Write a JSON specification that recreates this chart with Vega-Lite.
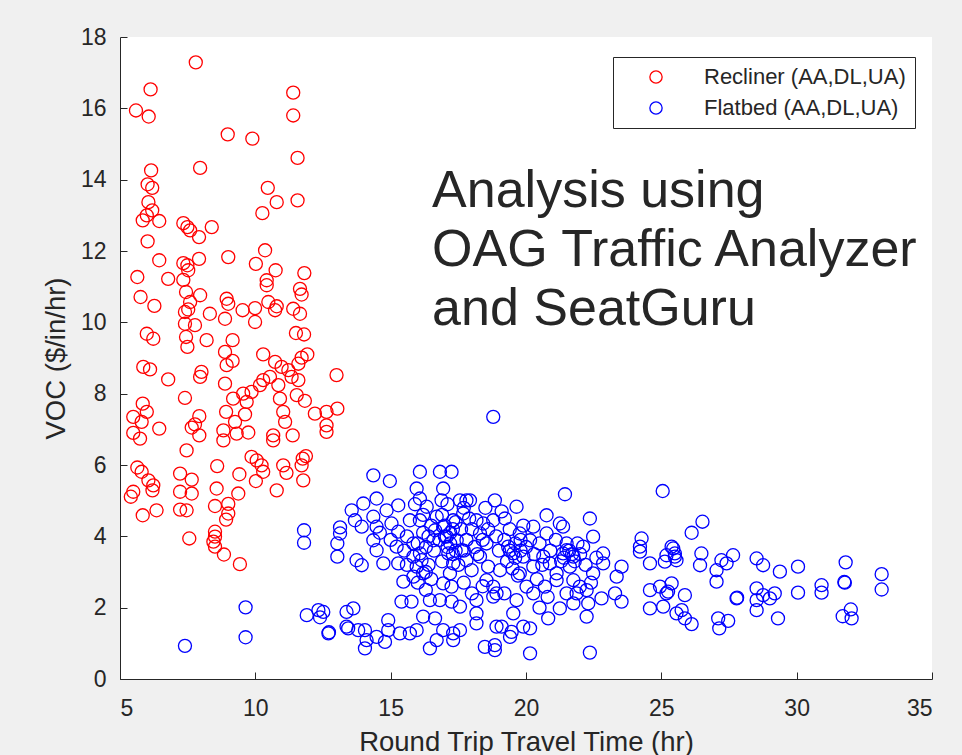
{
"$schema":"https://vega.github.io/schema/vega-lite/v6.json",
"width":812,"height":642,
"autosize":{"type":"none"},
"padding":{"left":120,"top":37,"right":30,"bottom":76},
"background":"#f0f0f0",
"config":{
"view":{"stroke":null,"fill":"#ffffff"},
"font":"Liberation Sans",
"axis":{"grid":false,"domainColor":"#262626","tickColor":"#262626","labelColor":"#262626","titleColor":"#262626","labelFont":"Liberation Sans","titleFont":"Liberation Sans","labelFontSize":23,"titleFontSize":27.5,"titleFontWeight":"normal","tickSize":-7,"domainWidth":1,"tickWidth":1}
},
"datasets":{
"recliner":[
{"time":7.80,"voc":17.29},{"time":6.13,"voc":16.53},{"time":5.59,"voc":15.94},{"time":6.06,"voc":15.77},{"time":8.98,"voc":15.27},{"time":9.89,"voc":15.15},{"time":11.40,"voc":16.44},{"time":11.40,"voc":15.80},{"time":11.56,"voc":14.61},{"time":7.96,"voc":14.33},{"time":6.15,"voc":14.26},{"time":6.02,"voc":13.87},{"time":6.19,"voc":13.77},{"time":6.05,"voc":13.37},{"time":6.19,"voc":13.14},{"time":5.99,"voc":13.00},{"time":5.84,"voc":12.86},{"time":6.45,"voc":12.84},{"time":10.46,"voc":13.77},{"time":10.79,"voc":13.37},{"time":11.56,"voc":13.42},{"time":10.26,"voc":13.06},{"time":7.34,"voc":12.78},{"time":7.49,"voc":12.67},{"time":7.59,"voc":12.58},{"time":7.92,"voc":12.39},{"time":8.39,"voc":12.67},{"time":6.02,"voc":12.27},{"time":6.45,"voc":11.74},{"time":7.34,"voc":11.66},{"time":7.49,"voc":11.60},{"time":7.52,"voc":11.46},{"time":7.92,"voc":11.78},{"time":9.00,"voc":11.83},{"time":10.36,"voc":12.02},{"time":10.02,"voc":11.64},{"time":10.75,"voc":11.46},{"time":11.81,"voc":11.38},{"time":5.64,"voc":11.27},{"time":6.78,"voc":11.22},{"time":7.34,"voc":11.19},{"time":10.42,"voc":11.18},
{"time":5.76,"voc":10.71},{"time":6.27,"voc":10.46},{"time":7.44,"voc":10.85},{"time":7.96,"voc":10.76},{"time":7.59,"voc":10.57},{"time":8.94,"voc":10.66},{"time":9.00,"voc":10.52},{"time":9.53,"voc":10.34},{"time":9.99,"voc":10.40},{"time":10.42,"voc":11.04},{"time":10.48,"voc":10.57},{"time":10.73,"voc":10.34},{"time":10.79,"voc":10.45},{"time":11.65,"voc":10.94},{"time":11.71,"voc":10.78},{"time":11.40,"voc":10.38},{"time":11.65,"voc":10.24},{"time":7.40,"voc":10.29},{"time":7.52,"voc":10.36},{"time":7.40,"voc":9.96},{"time":7.77,"voc":9.92},{"time":8.32,"voc":10.24},{"time":8.88,"voc":10.10},{"time":9.99,"voc":10.01},{"time":7.44,"voc":9.59},{"time":7.49,"voc":9.31},{"time":8.20,"voc":9.50},{"time":9.16,"voc":9.50},{"time":8.88,"voc":9.17},{"time":5.99,"voc":9.68},{"time":6.23,"voc":9.54},{"time":11.50,"voc":9.70},{"time":11.80,"voc":9.66},{"time":10.29,"voc":9.10},{"time":5.86,"voc":8.75},{"time":6.11,"voc":8.68},{"time":6.78,"voc":8.40},{"time":8.01,"voc":8.61},{"time":7.96,"voc":8.47},{"time":8.94,"voc":8.80},{"time":9.16,"voc":8.92},{"time":8.88,"voc":8.28},{"time":10.73,"voc":8.89},{"time":10.97,"voc":8.75},{"time":11.22,"voc":8.66},{"time":11.59,"voc":8.84},{"time":11.71,"voc":9.01},{"time":11.92,"voc":9.10},{"time":11.34,"voc":8.47},{"time":11.59,"voc":8.38},{"time":10.54,"voc":8.47},{"time":10.29,"voc":8.38},{"time":10.85,"voc":8.24},{"time":13.00,"voc":8.52},{"time":7.40,"voc":7.88},{"time":9.18,"voc":7.86},{"time":9.55,"voc":8.00},{"time":9.86,"voc":8.05},{"time":9.68,"voc":7.77},{"time":10.17,"voc":8.24},{"time":10.91,"voc":7.86},{"time":11.53,"voc":7.96},{"time":11.83,"voc":7.80},{"time":5.84,"voc":7.72},{"time":5.99,"voc":7.49},{"time":5.49,"voc":7.35},{"time":5.80,"voc":7.21},{"time":6.45,"voc":7.02},{"time":5.49,"voc":6.90},{"time":5.74,"voc":6.74},{"time":8.92,"voc":7.49},{"time":9.62,"voc":7.42},{"time":11.03,"voc":7.49},{"time":11.10,"voc":7.21},{"time":12.20,"voc":7.44},{"time":12.63,"voc":7.49},{"time":13.03,"voc":7.58},{"time":12.63,"voc":7.11},{"time":12.63,"voc":6.93},{"time":7.93,"voc":7.37},{"time":7.77,"voc":7.14},{"time":7.65,"voc":7.05},{"time":7.93,"voc":6.83},{"time":8.82,"voc":6.97},{"time":8.82,"voc":6.69},{"time":9.25,"voc":7.21},{"time":9.31,"voc":6.88},{"time":9.74,"voc":6.91},{"time":10.66,"voc":6.83},{"time":10.66,"voc":6.69},{"time":11.38,"voc":6.83},{"time":7.46,"voc":6.41},{"time":5.64,"voc":5.93},{"time":5.80,"voc":5.81},{"time":6.05,"voc":5.57},{"time":6.23,"voc":5.43},{"time":6.20,"voc":5.29},{"time":5.49,"voc":5.25},{"time":5.40,"voc":5.11},{"time":7.22,"voc":5.76},{"time":7.65,"voc":5.59},{"time":7.22,"voc":5.25},{"time":7.65,"voc":5.20},{"time":8.59,"voc":5.97},{"time":8.57,"voc":5.34},{"time":9.41,"voc":5.74},{"time":9.37,"voc":5.20},{"time":9.86,"voc":6.23},{"time":10.05,"voc":6.13},{"time":10.23,"voc":5.99},{"time":10.29,"voc":5.81},{"time":10.02,"voc":5.55},{"time":10.79,"voc":5.29},{"time":11.03,"voc":5.99},{"time":11.15,"voc":5.78},{"time":11.75,"voc":6.18},{"time":11.87,"voc":6.25},{"time":11.71,"voc":5.99},{"time":11.77,"voc":5.57},{"time":5.84,"voc":4.59},{"time":6.35,"voc":4.73},{"time":7.22,"voc":4.75},{"time":7.46,"voc":4.73},{"time":8.51,"voc":4.85},{"time":9.00,"voc":4.91},{"time":9.00,"voc":4.64},
{"time":8.92,"voc":4.47},{"time":8.51,"voc":4.13},{"time":8.51,"voc":3.99},{"time":8.45,"voc":3.85},{"time":8.51,"voc":3.71},{"time":8.84,"voc":3.49},{"time":9.43,"voc":3.22},{"time":7.56,"voc":3.94}
],
"flatbed":[
{"time":7.40,"voc":0.93},{"time":9.64,"voc":2.01},{"time":9.64,"voc":1.17},{"time":11.80,"voc":4.17},{"time":11.80,"voc":3.82},{"time":11.90,"voc":1.79},{"time":12.33,"voc":1.93},{"time":12.51,"voc":1.88},{"time":12.39,"voc":1.73},{"time":12.70,"voc":1.28},{"time":12.72,"voc":1.31},{"time":13.13,"voc":4.25},{"time":13.13,"voc":4.08},{"time":13.03,"voc":3.80},{"time":13.03,"voc":3.43},{"time":13.37,"voc":1.88},{"time":13.37,"voc":1.47},
{"time":18.79,"voc":7.35},{"time":14.36,"voc":5.71},{"time":14.97,"voc":5.55},{"time":16.08,"voc":5.81},{"time":16.82,"voc":5.81},{"time":17.25,"voc":5.81},{"time":15.96,"voc":5.34},{"time":16.08,"voc":5.06},{"time":16.94,"voc":5.34},{"time":16.88,"voc":5.01},{"time":17.80,"voc":5.01},{"time":18.85,"voc":5.01},{"time":14.48,"voc":5.06},{"time":13.99,"voc":4.92},{"time":13.56,"voc":4.73},{"time":15.28,"voc":4.87},{"time":14.85,"voc":4.73},{"time":13.68,"voc":4.45},{"time":13.93,"voc":4.27},{"time":14.48,"voc":4.27},{"time":14.36,"voc":4.55},{"time":14.36,"voc":3.89},{"time":14.48,"voc":3.61},{"time":13.74,"voc":3.33},{"time":13.93,"voc":3.19},{"time":14.73,"voc":3.24},{"time":15.03,"voc":4.36},{"time":15.28,"voc":4.13},{"time":15.22,"voc":3.71},{"time":15.28,"voc":3.24},{"time":15.47,"voc":2.73},{"time":15.84,"voc":3.80},{"time":15.84,"voc":3.43},{"time":15.96,"voc":3.15},{"time":15.84,"voc":2.87},{"time":16.08,"voc":3.52},{"time":16.14,"voc":3.33},{"time":16.20,"voc":2.96},{"time":15.71,"voc":4.45},{"time":16.08,"voc":4.45},{"time":16.33,"voc":4.83},{"time":16.70,"voc":4.55},{"time":16.64,"voc":4.17},{"time":16.58,"voc":3.89},{"time":16.94,"voc":4.27},{"time":17.07,"voc":3.99},{"time":17.31,"voc":4.45},{"time":17.44,"voc":3.89},{"time":17.56,"voc":5.01},{"time":17.93,"voc":5.01},{"time":17.68,"voc":4.64},{"time":18.17,"voc":4.45},{"time":18.30,"voc":4.08},{"time":18.54,"voc":3.80},{"time":18.42,"voc":4.36},{"time":18.79,"voc":4.45},{"time":17.13,"voc":3.52},{"time":17.31,"voc":3.24},{"time":17.19,"voc":2.96},{"time":16.94,"voc":2.68},{"time":17.25,"voc":2.59},{"time":17.62,"voc":3.61},{"time":17.80,"voc":3.33},{"time":17.99,"voc":3.05},{"time":18.30,"voc":3.43},{"time":18.60,"voc":3.15},{"time":18.54,"voc":2.77},{"time":18.79,"voc":2.59},{"time":16.45,"voc":2.21},{"time":16.82,"voc":2.21},{"time":17.25,"voc":2.17},{"time":17.56,"voc":2.03},{"time":15.40,"voc":2.17},{"time":15.77,"voc":2.17},{"time":18.17,"voc":2.21},{"time":18.17,"voc":1.84},{"time":18.17,"voc":1.56},{"time":18.79,"voc":2.31},{"time":18.91,"voc":1.47},{"time":18.48,"voc":0.90},{"time":18.85,"voc":0.81},{"time":13.62,"voc":1.98},{"time":13.43,"voc":1.42},{"time":13.80,"voc":1.37},{"time":14.05,"voc":1.37},{"time":14.11,"voc":1.09},{"time":14.05,"voc":0.86},{"time":14.48,"voc":1.18},{"time":14.79,"voc":1.04},{"time":14.91,"voc":1.65},{"time":14.91,"voc":1.37},{"time":15.34,"voc":1.28},{"time":15.71,"voc":1.28},{"time":15.96,"voc":1.37},{"time":16.20,"voc":1.75},{"time":16.64,"voc":1.70},{"time":16.94,"voc":1.37},{"time":17.31,"voc":1.28},{"time":17.56,"voc":1.37},{"time":16.45,"voc":0.86},{"time":16.70,"voc":1.09},{"time":17.31,"voc":1.09},
{"time":21.44,"voc":5.18},{"time":25.05,"voc":5.27},{"time":19.65,"voc":4.83},{"time":20.76,"voc":4.59},{"time":22.36,"voc":4.50},{"time":21.25,"voc":4.36},{"time":19.22,"voc":4.50},{"time":20.27,"voc":4.27},{"time":21.37,"voc":4.27},{"time":22.48,"voc":3.99},{"time":24.27,"voc":3.94},{"time":24.21,"voc":3.71},{"time":24.21,"voc":3.57},{"time":24.58,"voc":3.24},{"time":19.34,"voc":3.71},{"time":19.53,"voc":3.52},{"time":19.90,"voc":3.43},{"time":20.64,"voc":3.43},{"time":20.88,"voc":3.24},{"time":21.50,"voc":3.61},{"time":21.75,"voc":3.43},{"time":22.11,"voc":3.71},{"time":22.85,"voc":3.52},{"time":22.85,"voc":3.24},{"time":23.53,"voc":3.15},{"time":23.35,"voc":2.87},{"time":23.29,"voc":2.40},{"time":23.53,"voc":2.17},{"time":22.79,"voc":2.26},{"time":22.24,"voc":2.49},{"time":22.30,"voc":2.12},{"time":21.87,"voc":2.40},{"time":21.75,"voc":2.12},{"time":22.24,"voc":1.75},{"time":21.25,"voc":1.98},{"time":20.82,"voc":1.70},{"time":20.15,"voc":1.42},{"time":19.90,"voc":1.47},{"time":19.53,"voc":1.84},{"time":19.10,"voc":1.47},{"time":19.41,"voc":1.18},{"time":19.47,"voc":1.32},{"time":18.85,"voc":0.95},{"time":20.15,"voc":0.72},{"time":22.36,"voc":0.74},{"time":20.02,"voc":2.59},{"time":20.27,"voc":2.40},{"time":19.65,"voc":2.21},{"time":18.91,"voc":2.40},{"time":20.70,"voc":2.59},{"time":21.13,"voc":2.77},{"time":21.75,"voc":2.77},{"time":21.99,"voc":2.59},{"time":20.15,"voc":3.89},{"time":19.77,"voc":4.08},{"time":20.76,"voc":4.08},{"time":20.27,"voc":3.15},{"time":19.77,"voc":2.96},{"time":19.04,"voc":3.05},{"time":21.13,"voc":2.96},{"time":21.62,"voc":3.15},{"time":22.48,"voc":2.96},{"time":21.37,"voc":3.52},{"time":24.95,"voc":2.59},{"time":24.58,"voc":2.49},{"time":25.19,"voc":2.40},{"time":25.38,"voc":2.68},{"time":25.44,"voc":3.66},{"time":25.19,"voc":3.47},{"time":25.50,"voc":3.43},{"time":24.58,"voc":1.98},{"time":25.07,"voc":2.03},{"time":25.56,"voc":1.84},
{"time":26.52,"voc":4.41},{"time":26.12,"voc":4.10},{"time":25.38,"voc":3.71},{"time":25.50,"voc":3.52},{"time":25.13,"voc":3.29},{"time":25.56,"voc":3.33},{"time":26.48,"voc":3.52},{"time":26.43,"voc":3.19},{"time":27.22,"voc":3.33},{"time":27.65,"voc":3.47},{"time":27.41,"voc":3.24},{"time":27.04,"voc":3.05},{"time":27.04,"voc":2.73},{"time":28.52,"voc":3.38},{"time":28.76,"voc":3.19},{"time":29.38,"voc":3.01},{"time":30.05,"voc":3.15},{"time":30.05,"voc":2.42},{"time":31.81,"voc":3.27},{"time":31.78,"voc":2.70},{"time":31.76,"voc":2.72},{"time":30.92,"voc":2.63},{"time":30.92,"voc":2.42},{"time":33.14,"voc":2.94},{"time":33.14,"voc":2.51},{"time":31.70,"voc":1.76},{"time":32.00,"voc":1.95},{"time":32.03,"voc":1.70},{"time":25.25,"voc":2.45},{"time":25.87,"voc":2.35},{"time":25.75,"voc":1.93},{"time":25.87,"voc":1.70},{"time":26.12,"voc":1.54},{"time":27.10,"voc":1.70},{"time":27.47,"voc":1.63},{"time":27.14,"voc":1.42},{"time":27.78,"voc":2.26},{"time":27.80,"voc":2.28},{"time":28.52,"voc":2.54},{"time":28.52,"voc":2.21},{"time":28.52,"voc":1.93},{"time":28.76,"voc":2.35},{"time":29.01,"voc":2.26},{"time":29.19,"voc":2.40},{"time":29.31,"voc":1.70},
{"time":16.9,"voc":4.6},{"time":17.0,"voc":4.3},{"time":17.2,"voc":4.1},{"time":17.4,"voc":4.4},{"time":17.6,"voc":4.2},{"time":17.8,"voc":3.9},{"time":17.9,"voc":4.5},{"time":18.0,"voc":4.2},{"time":18.1,"voc":3.7},{"time":17.1,"voc":3.7},{"time":17.3,"voc":3.5},{"time":16.8,"voc":3.9},{"time":16.6,"voc":3.6},{"time":16.9,"voc":3.3},{"time":17.5,"voc":3.2},{"time":17.7,"voc":3.6},{"time":18.2,"voc":3.5},{"time":18.4,"voc":3.9},{"time":18.6,"voc":4.2},{"time":18.9,"voc":4.0},{"time":19.0,"voc":3.6},{"time":19.2,"voc":3.9},{"time":19.4,"voc":4.2},{"time":19.6,"voc":3.8},{"time":19.8,"voc":3.6},{"time":19.9,"voc":4.3},{"time":19.3,"voc":3.3},{"time":19.5,"voc":3.1},{"time":19.7,"voc":2.9},{"time":20.0,"voc":3.7},{"time":20.3,"voc":3.5},{"time":20.5,"voc":3.8},{"time":20.6,"voc":3.2},{"time":20.4,"voc":2.8},{"time":20.9,"voc":3.6},{"time":21.1,"voc":3.9},{"time":21.3,"voc":3.3},{"time":21.6,"voc":3.6},{"time":21.8,"voc":3.3},{"time":21.9,"voc":3.8},{"time":22.0,"voc":3.5},{"time":22.2,"voc":3.2},{"time":22.6,"voc":3.4},{"time":22.4,"voc":2.7},{"time":21.5,"voc":2.4},{"time":20.8,"voc":2.3},{"time":20.5,"voc":2.0},{"time":19.2,"voc":2.4},{"time":18.4,"voc":2.6},{"time":18.0,"voc":2.4},{"time":17.7,"voc":2.7},{"time":16.3,"voc":2.5},{"time":16.0,"voc":2.7},{"time":15.6,"voc":3.2},{"time":15.5,"voc":3.6},{"time":15.6,"voc":4.0},{"time":16.2,"voc":4.1},{"time":16.0,"voc":3.8},{"time":16.4,"voc":3.2},{"time":16.2,"voc":4.6},{"time":15.9,"voc":4.9},{"time":17.1,"voc":4.9},{"time":17.7,"voc":4.8},{"time":18.5,"voc":4.8},{"time":19.1,"voc":4.7},{"time":14.6,"voc":4.1},{"time":15.0,"voc":3.9},
{"time":16.3,"voc":3.7},{"time":16.4,"voc":4.0},{"time":16.5,"voc":4.3},{"time":16.3,"voc":3.0},{"time":16.5,"voc":2.8},{"time":17.2,"voc":3.8},{"time":17.4,"voc":3.6},{"time":17.0,"voc":4.0},{"time":17.3,"voc":4.2},{"time":19.4,"voc":3.6},{"time":19.6,"voc":3.4},{"time":19.8,"voc":3.9},{"time":21.4,"voc":3.4},{"time":21.7,"voc":3.5},{"time":21.5,"voc":3.8}
]
},
"layer":[
{"data":{"name":"recliner"},
"mark":{"type":"point","shape":"circle","filled":false,"size":170,"strokeWidth":1.3,"opacity":1},
"encoding":{
"x":{"field":"time","type":"quantitative","scale":{"domain":[5,35],"nice":false,"zero":false},"axis":{"values":[5,10,15,20,25,30,35],"title":"Round Trip Travel Time (hr)","labelPadding":25,"titlePadding":8}},
"y":{"field":"voc","type":"quantitative","scale":{"domain":[0,18],"nice":false},"axis":{"values":[0,2,4,6,8,10,12,14,16,18],"title":"VOC ($/in/hr)","labelPadding":21,"titlePadding":10}},
"color":{"datum":"Recliner","type":"nominal","scale":{"domain":["Recliner","Flatbed"],"range":["#ff0000","#0000ff"]},
"legend":{"title":null,"orient":"none","legendX":493,"legendY":20,"padding":9,"strokeColor":"#262626","fillColor":"#ffffff","labelFontSize":22,"labelLimit":0,"labelColor":"#262626","labelFont":"Liberation Sans","symbolType":"circle","symbolSize":150,"symbolStrokeWidth":1.3,"symbolOffset":23,"labelOffset":37,"rowPadding":9,"labelExpr":"datum.label + ' (AA,DL,UA)'"}}
}},
{"data":{"name":"flatbed"},
"mark":{"type":"point","shape":"circle","filled":false,"size":170,"strokeWidth":1.3,"opacity":1},
"encoding":{
"x":{"field":"time","type":"quantitative"},
"y":{"field":"voc","type":"quantitative"},
"color":{"datum":"Flatbed","type":"nominal"}
}},
{"data":{"values":[{}]},
"mark":{"type":"text","text":["Analysis using","OAG Traffic Analyzer","and SeatGuru"],"align":"left","baseline":"alphabetic","fontSize":52,"lineHeight":59,"color":"#262626","font":"Liberation Sans"},
"encoding":{"x":{"datum":16.53,"type":"quantitative"},"y":{"datum":13.22,"type":"quantitative"}}}
]
}
